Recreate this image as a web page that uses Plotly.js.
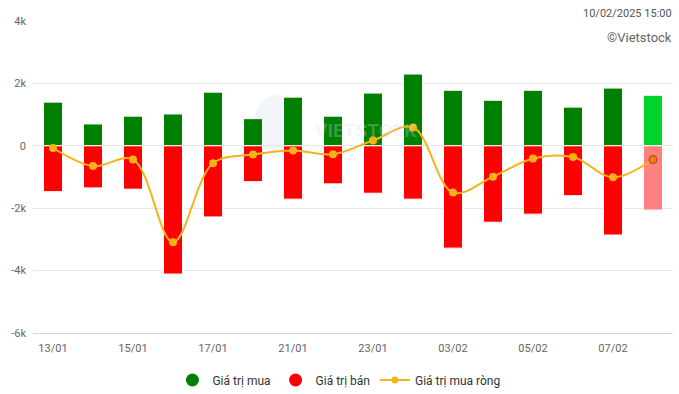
<!DOCTYPE html>
<html>
<head>
<meta charset="utf-8">
<script src="https://cdn.plot.ly/plotly-3.0.1.min.js"></script>
<style>
html,body{margin:0;padding:0;background:#fff;}
#chart{width:679px;height:394px;}
</style>
</head>
<body>
<div id="chart"></div>
<script>
const categories = ["13/01","14/01","15/01","16/01","17/01","20/01","21/01","22/01","23/01","24/01","03/02","04/02","05/02","06/02","07/02","10/02"];
const buyValues  = [1400, 700, 950, 1020, 1720, 870, 1560, 950, 1690, 2300, 1780, 1460, 1780, 1240, 1850, 1620];
const sellValues = [-1470, -1350, -1390, -4110, -2280, -1150, -1710, -1220, -1520, -1710, -3280, -2450, -2190, -1600, -2860, -2060];
const netValues  = [-70, -650, -440, -3090, -560, -280, -150, -270, 170, 590, -1500, -990, -410, -360, -1010, -440];
const xTickLabels = ["13/01","15/01","17/01","21/01","23/01","03/02","05/02","07/02"];
const yTickValues = [-6000, -4000, -2000, 0, 2000, 4000];
const yTickLabels = ["-6k","-4k","-2k","0","2k","4k"];

const n = categories.length;
const buyColors = categories.map((c,i)=> i===n-1 ? "#00d42a" : "#008000");
const sellColors = categories.map((c,i)=> i===n-1 ? "#ff8080" : "#ff0000");
const netColors = categories.map((c,i)=> i===n-1 ? "#f07f0e" : "#f7b317");
const netLineColors = categories.map((c,i)=> i===n-1 ? "#9a4a10" : "#f7b317");
const netLineWidths = categories.map((c,i)=> i===n-1 ? 1 : 0);

const font = "Roboto, 'Open Sans', Arial, sans-serif";
const H = 394, T = 21, B = 61, PH = H - T - B;
const py = p => (H - B - p) / PH;  // pixel row -> paper y

const traces = [
  {type:"bar", x:categories, y:buyValues, name:"Giá trị mua", showlegend:false,
   marker:{color:buyColors, line:{color:"#ffffff", width:1}}, hoverinfo:"skip"},
  {type:"bar", x:categories, y:sellValues, name:"Giá trị bán", showlegend:false,
   marker:{color:sellColors, line:{color:"#ffffff", width:1}}, hoverinfo:"skip"},
  {type:"scatter", mode:"lines+markers", x:categories, y:netValues, name:"Giá trị mua ròng", showlegend:false,
   line:{color:"#f7b317", width:2, shape:"spline", smoothing:1},
   marker:{size:8, color:netColors, line:{color:netLineColors, width:netLineWidths}}, hoverinfo:"skip"},
  {type:"scatter", mode:"markers", x:[null], y:[null], name:"Giá trị mua", marker:{size:13, color:"#008000"}},
  {type:"scatter", mode:"markers", x:[null], y:[null], name:"Giá trị bán", marker:{size:13, color:"#ff0000"}},
  {type:"scatter", mode:"lines+markers", x:[null], y:[null], name:"Giá trị mua ròng",
   line:{color:"#f7b317", width:2}, marker:{size:7, color:"#f7b317"}}
];

const layout = {
  width:679, height:394,
  margin:{l:33, r:6, t:T, b:B, autoexpand:false},
  paper_bgcolor:"#ffffff", plot_bgcolor:"#ffffff",
  barmode:"relative", bargap:0.525,
  font:{family:font, size:11, color:"#666666"},
  xaxis:{type:"category", categoryorder:"array", categoryarray:categories,
         tickmode:"array", tickvals:xTickLabels, ticktext:xTickLabels,
         showgrid:false, zeroline:false, showline:true, linecolor:"#ccd6eb", linewidth:1,
         ticks:"", ticklabelstandoff:5, tickfont:{family:font, size:11, color:"#666666"},
         range:[-0.5, n-0.5], fixedrange:true, automargin:false},
  yaxis:{range:[-6000,4000], tickmode:"array", tickvals:yTickValues, ticktext:yTickLabels,
         showgrid:true, gridcolor:"#e6e6e6", gridwidth:1, zeroline:false, showline:false,
         ticks:"", ticklabelstandoff:6, tickfont:{family:font, size:11, color:"#666666"},
         fixedrange:true, automargin:false},
  showlegend:true,
  legend:{orientation:"h", x:0.478, xanchor:"center", y:py(380), yanchor:"middle",
          font:{family:font, size:12, color:"#333333"}, itemwidth:30, tracegroupgap:0,
          bgcolor:"rgba(0,0,0,0)"},
  shapes:[
    {type:"circle", xref:"paper", yref:"paper", x0:0.345, x1:0.42, y0:py(153), y1:py(95),
     fillcolor:"rgba(205,218,236,0.25)", line:{width:0}, layer:"below"}
  ],
  annotations:[
    {xref:"paper", yref:"paper", x:0.52, y:py(118), text:"<b>VIETSTOCK</b>", showarrow:false,
     borderpad:0, font:{family:font, size:19, color:"rgba(210,220,235,0.3)"}},
    {xref:"paper", yref:"paper", x:1.0 + 1/640, y:py(13), xanchor:"right", yanchor:"middle",
     text:"10/02/2025 15:00", showarrow:false, font:{family:font, size:11, color:"#555555"}},
    {xref:"paper", yref:"paper", x:1.0 + 1/640, y:py(37), xanchor:"right", yanchor:"middle",
     text:"©Vietstock", showarrow:false, font:{family:font, size:13, color:"#666666"}}
  ]
};

Plotly.newPlot("chart", traces, layout, {displayModeBar:false, staticPlot:true});
</script>
</body>
</html>
